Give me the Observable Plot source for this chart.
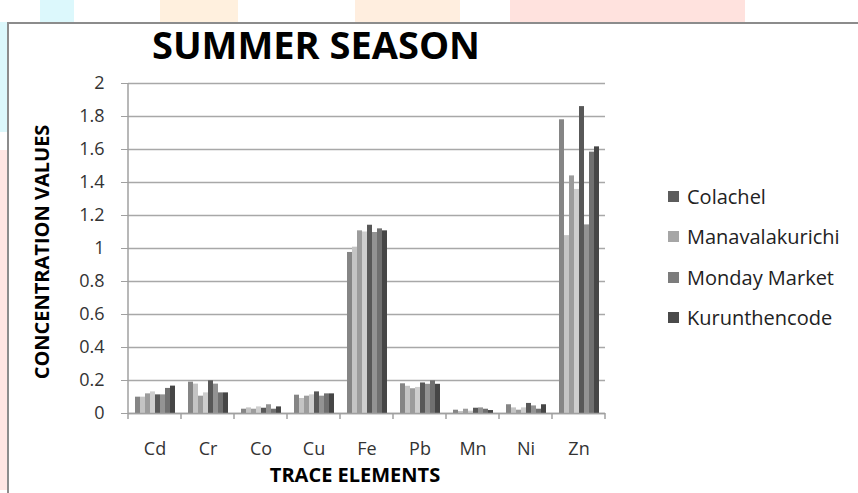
<!DOCTYPE html>
<html>
<head>
<meta charset="utf-8">
<script src="https://cdn.jsdelivr.net/npm/d3@7"></script>
<script src="https://cdn.jsdelivr.net/npm/@observablehq/plot@0.6"></script>
<style>
  body { margin: 0; background: #fff; }
  #wrap { position: relative; width: 858px; height: 493px; overflow: hidden; font-family: "Open Sans", sans-serif; background: #fff; }
  .deco { position: absolute; }
  #frame { position: absolute; left: 7px; top: 22px; width: 900px; height: 520px; border-left: 2px solid #8c8c8c; border-top: 2px solid #8c8c8c; background: #fff; }
  #chart { position: absolute; left: 0; top: 0; }
  #title { position: absolute; left: 0; width: 632px; top: 25px; text-align: center; font-weight: bold; font-size: 38px; line-height: 1; color: #000; }
  #ytitle { position: absolute; left: 41px; top: 252px; transform: translate(-50%, -50%) rotate(-90deg); white-space: nowrap; font-weight: bold; font-size: 20px; color: #000; }
  #xtitle { position: absolute; left: 355px; top: 474px; transform: translate(-50%, -50%); white-space: nowrap; font-weight: bold; font-size: 20px; color: #000; }
  #legend { position: absolute; left: 668px; top: 0; }
  .lrow { position: absolute; left: 0; white-space: nowrap; font-size: 20px; color: #222; display: flex; align-items: center; height: 28px; transform: translateY(-50%); }
  .lsw { width: 11px; height: 11px; margin-right: 8px; }
</style>
</head>
<body>
<div id="wrap">
  <div class="deco" style="left:40px;top:0;width:34px;height:22px;background:#dcf8fc"></div>
  <div class="deco" style="left:160px;top:0;width:78px;height:22px;background:#fff0de"></div>
  <div class="deco" style="left:355px;top:0;width:105px;height:22px;background:#ffeedf"></div>
  <div class="deco" style="left:510px;top:0;width:235px;height:22px;background:#ffe2de"></div>
  <div class="deco" style="left:0;top:22px;width:7px;height:110px;background:#dcf8fc"></div>
  <div class="deco" style="left:0;top:150px;width:7px;height:340px;background:#ffe6e3"></div>
  <div id="frame"></div>
  <div id="chart"></div>
  <div id="title">SUMMER SEASON</div>
  <div id="ytitle">CONCENTRATION VALUES</div>
  <div id="xtitle">TRACE ELEMENTS</div>
  <div id="legend"></div>
</div>
<script>
// Categories (trace elements)
const elements = ["Cd", "Cr", "Co", "Cu", "Fe", "Pb", "Mn", "Ni", "Zn"];

// Eight bar sets per element, one array per set, in element order
const set1 = [0.099, 0.190, 0.026, 0.111, 0.976, 0.180, 0.020, 0.053, 1.780];
const set2 = [0.099, 0.178, 0.034, 0.091, 1.008, 0.165, 0.012, 0.034, 1.078];
const set3 = [0.119, 0.105, 0.026, 0.105, 1.107, 0.150, 0.026, 0.020, 1.440];
const set4 = [0.131, 0.125, 0.040, 0.113, 1.100, 0.158, 0.014, 0.034, 1.358];
const set5 = [0.113, 0.198, 0.032, 0.131, 1.141, 0.185, 0.032, 0.061, 1.860];
const set6 = [0.113, 0.178, 0.053, 0.105, 1.097, 0.177, 0.034, 0.046, 1.143];
const set7 = [0.152, 0.125, 0.026, 0.119, 1.119, 0.198, 0.026, 0.026, 1.584];
const set8 = [0.166, 0.125, 0.040, 0.119, 1.107, 0.177, 0.018, 0.053, 1.616];

const setKeys = ["set1", "set2", "set3", "set4", "set5", "set6", "set7", "set8"];
const setColors = ["#858585", "#c4c4c4", "#9c9c9c", "#cecece", "#585858", "#939393", "#707070", "#464646"];

// Legend entries as shown
const legendSites = ["Colachel", "Manavalakurichi", "Monday Market", "Kurunthencode"];
const legendColors = ["#5c5c5c", "#a6a6a6", "#7c7c7c", "#4a4a4a"];

// Y tick values
const yTicks = [0, 0.2, 0.4, 0.6, 0.8, 1, 1.2, 1.4, 1.6, 1.8, 2];

const sets = [set1, set2, set3, set4, set5, set6, set7, set8];
const data = elements.flatMap((el, i) => sets.map((s, j) => ({element: el, key: setKeys[j], value: s[i]})));

const chart = Plot.plot({
  width: 858,
  height: 493,
  marginLeft: 125,
  marginRight: 251,
  marginTop: 83,
  marginBottom: 80,
  style: {background: "transparent", fontFamily: "Open Sans", color: "#333"},
  fx: {domain: elements, padding: 0, label: null},
  x: {domain: setKeys, paddingInner: 0, paddingOuter: 0.76, axis: null},
  y: {domain: [0, 2], label: null},
  color: {domain: setKeys, range: setColors},
  marks: [
    Plot.gridY(yTicks, {stroke: "#a8a8a8", strokeOpacity: 1, strokeWidth: 1.3}),
    Plot.barY(data, {fx: "element", x: "key", y: "value", fill: "key"}),
    Plot.ruleY([0], {stroke: "#a0a0a0", strokeWidth: 1.5}),
    Plot.axisY(yTicks, {tickSize: 7, tickPadding: 17, tickFormat: d => String(+d.toFixed(1)), fontSize: 18, stroke: "#a0a0a0", fill: "#333", label: null}),
    Plot.axisFx({anchor: "bottom", tickSize: 0, tickPadding: 29, fontSize: 18, fill: "#333", label: null})
  ]
});
document.getElementById("chart").appendChild(chart);

// axis line and category boundary ticks, drawn from Plot's own scales
const fx = chart.scale("fx");
const ys = chart.scale("y");
const svg = d3.select(chart);
const y0 = ys.apply(0), y2 = ys.apply(2);
const bw = fx.bandwidth;
const g = svg.append("g").attr("stroke", "#a0a0a0").attr("stroke-width", 1.5);
g.append("line").attr("x1", fx.apply(elements[0])).attr("x2", fx.apply(elements[0])).attr("y1", y2).attr("y2", y0 + 6);
elements.forEach(el => {
  const xr = fx.apply(el) + bw;
  g.append("line").attr("x1", xr).attr("x2", xr).attr("y1", y0).attr("y2", y0 + 6);
});

// legend
const leg = d3.select("#legend");
const rowY = [196, 236, 277, 317];
legendSites.forEach((name, i) => {
  const row = leg.append("div").attr("class", "lrow").style("top", rowY[i] + "px");
  row.append("div").attr("class", "lsw").style("background", legendColors[i]);
  row.append("span").text(name);
});
</script>
</body>
</html>
